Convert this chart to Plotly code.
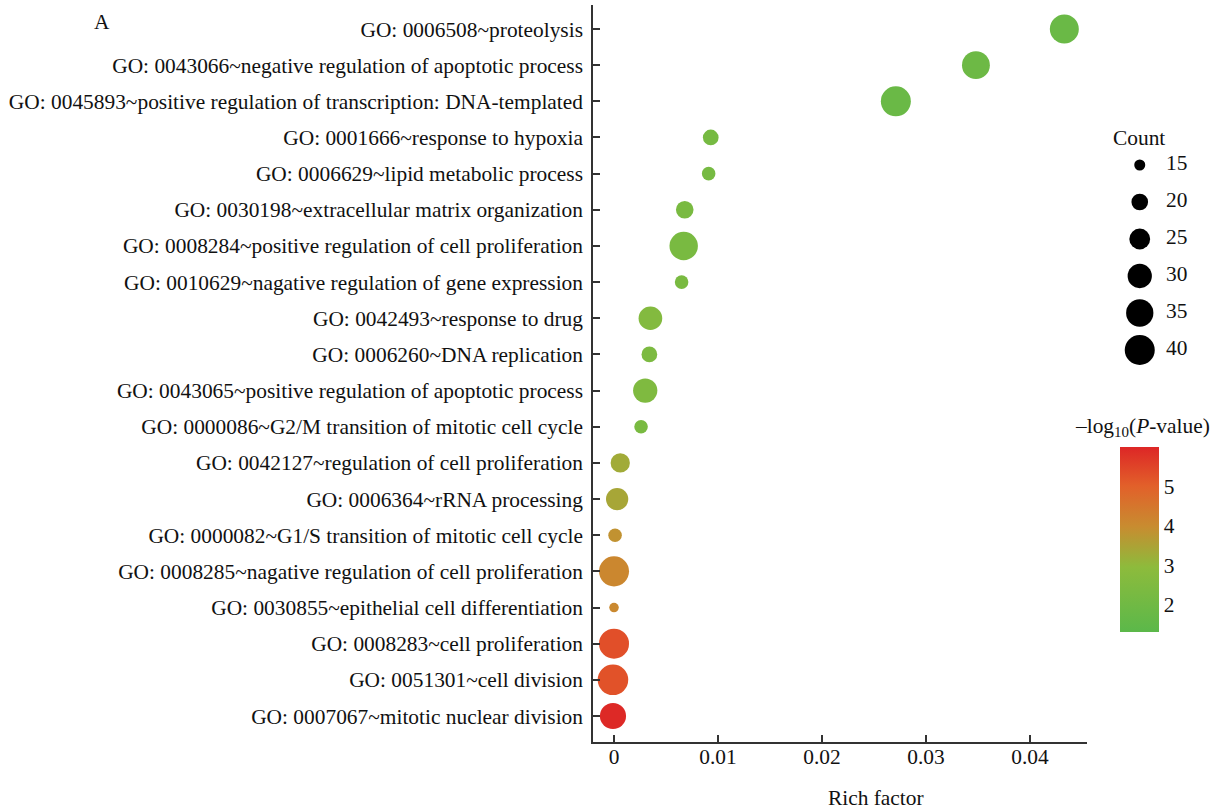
import numpy as np
import plotly.graph_objects as go

# ---------------- data ----------------
terms = [
    "GO: 0006508~proteolysis",
    "GO: 0043066~negative regulation of apoptotic process",
    "GO: 0045893~positive regulation of transcription: DNA-templated",
    "GO: 0001666~response to hypoxia",
    "GO: 0006629~lipid metabolic process",
    "GO: 0030198~extracellular matrix organization",
    "GO: 0008284~positive regulation of cell proliferation",
    "GO: 0010629~nagative regulation of gene expression",
    "GO: 0042493~response to drug",
    "GO: 0006260~DNA replication",
    "GO: 0043065~positive regulation of apoptotic process",
    "GO: 0000086~G2/M transition of mitotic cell cycle",
    "GO: 0042127~regulation of cell proliferation",
    "GO: 0006364~rRNA processing",
    "GO: 0000082~G1/S transition of mitotic cell cycle",
    "GO: 0008285~nagative regulation of cell proliferation",
    "GO: 0030855~epithelial cell differentiation",
    "GO: 0008283~cell proliferation",
    "GO: 0051301~cell division",
    "GO: 0007067~mitotic nuclear division",
]
rich_factor = [0.0433, 0.0348, 0.0271, 0.0093, 0.0091, 0.0068, 0.0067, 0.0065,
               0.0035, 0.0034, 0.0030, 0.0026, 0.0006, 0.0003, 0.0001, 0.0000,
               0.0000, 0.0000, -0.0001, -0.0001]
counts = [38, 36, 40, 19, 17, 21, 37, 17, 29, 19, 30, 17, 23, 27, 17, 40,
          14, 40, 41, 33]
neg_log10_p = [1.8, 1.9, 1.8, 2.2, 2.2, 2.3, 2.3, 2.3, 2.6, 2.4, 2.5, 2.3,
               3.3, 3.4, 3.85, 4.1, 4.05, 5.3, 5.25, 5.95]

legend_counts = [15, 20, 25, 30, 35, 40]
x_tick_vals = [0, 0.01, 0.02, 0.03, 0.04]
x_tick_text = ["0", "0.01", "0.02", "0.03", "0.04"]
cbar_tick_vals = [2, 3, 4, 5]

# ---------------- styling / layout helpers ----------------
FONT = "Liberation Serif"
FS = 21.4
W, H = 1216, 810
PLOT_L, PLOT_R, PLOT_T, PLOT_B = 593, 1087, 5, 742   # page pixels
L, T, B, R = PLOT_L, PLOT_T, H - PLOT_B, 0
PW, PH = W - L - R, H - T - B


def px_x(p):
    """page pixel x -> paper coordinate"""
    return (p - L) / PW


def px_y(p):
    """page pixel y -> paper coordinate"""
    return (H - B - p) / PH


def diam(c):
    return np.sqrt(31.2 * (np.asarray(c, dtype=float) - 11.1))


# category axis: row centres at page y 29 (top) .. 716 (bottom)
row_top, row_bot = 29.0, 716.0
step = (row_bot - row_top) / (len(terms) - 1)
y_range = [-(PLOT_B - row_bot) / step, len(terms) - 1 + (row_top - PLOT_T) / step]

colorscale = [
    [0.0, "#5bb84a"],
    [0.35, "#8dbb3c"],
    [0.57, "#c88c30"],
    [0.79, "#e2602a"],
    [1.0, "#dd2626"],
]

fig = go.Figure()

fig.add_trace(go.Scatter(
    x=rich_factor, y=terms, mode="markers",
    marker=dict(
        size=diam(counts), sizemode="diameter",
        color=neg_log10_p, colorscale=colorscale, cmin=1.3, cmax=6.0,
        line=dict(width=0), opacity=1,
        showscale=True,
        colorbar=dict(
            thickness=39, thicknessmode="pixels",
            len=185, lenmode="pixels",
            x=px_x(1120), xanchor="left", xpad=0,
            y=px_y(539.5), yanchor="middle", ypad=0,
            tickvals=cbar_tick_vals, ticks="", outlinewidth=0,
            tickfont=dict(family=FONT, size=FS, color="#111"),
        ),
    ),
    showlegend=False, hoverinfo="x+y",
))

# size legend (Count)
leg_top, leg_bot = 165.0, 350.0
leg_step = (leg_bot - leg_top) / (len(legend_counts) - 1)
dom_top, dom_bot = 137.0, 374.0
fig.add_trace(go.Scatter(
    x=[0.39] * len(legend_counts), y=list(range(len(legend_counts))),
    mode="markers", xaxis="x2", yaxis="y2",
    marker=dict(size=diam(legend_counts), sizemode="diameter", color="#000000",
                line=dict(width=0), opacity=1),
    showlegend=False, hoverinfo="skip",
))
fig.add_trace(go.Scatter(
    x=[0.6] * len(legend_counts), y=list(range(len(legend_counts))),
    mode="text", text=[str(c) for c in legend_counts],
    textposition="middle right", xaxis="x2", yaxis="y2",
    textfont=dict(family=FONT, size=FS, color="#111"),
    showlegend=False, hoverinfo="skip",
))

fig.update_layout(
    width=W, height=H,
    margin=dict(l=L, r=R, t=T, b=B, pad=0),
    paper_bgcolor="white", plot_bgcolor="white",
    font=dict(family=FONT, size=FS, color="#111"),
    xaxis=dict(
        domain=[0, px_x(PLOT_R)], range=[-0.00202, 0.04548],
        tickvals=x_tick_vals, ticktext=x_tick_text,
        ticks="inside", ticklen=7, tickwidth=1.5, tickcolor="#333",
        showline=True, linecolor="#333", linewidth=1.5,
        showgrid=False, zeroline=False, ticklabelstandoff=-5,
        tickfont=dict(family=FONT, size=FS, color="#111"),
    ),
    yaxis=dict(
        type="category", categoryorder="array", categoryarray=terms[::-1],
        range=y_range,
        ticks="inside", ticklen=7, tickwidth=1.5, tickcolor="#333",
        showline=True, linecolor="#333", linewidth=1.5,
        showgrid=False, zeroline=False, ticklabelstandoff=4,
        tickfont=dict(family=FONT, size=FS, color="#111"),
    ),
    xaxis2=dict(domain=[px_x(1091), 1], range=[0, 1], visible=False,
                anchor="y2"),
    yaxis2=dict(domain=[px_y(dom_bot), px_y(dom_top)],
                range=[(dom_bot - leg_top) / leg_step,
                       (dom_top - leg_top) / leg_step],
                visible=False, anchor="x2"),
    annotations=[
        dict(text="A", xref="paper", yref="paper", x=px_x(102), y=px_y(22),
             showarrow=False, xanchor="center", yanchor="middle",
             font=dict(family=FONT, size=FS, color="#111")),
        dict(text="Count", xref="paper", yref="paper", x=px_x(1139),
             y=px_y(138), showarrow=False, xanchor="center", yanchor="middle",
             font=dict(family=FONT, size=FS, color="#111")),
        dict(text="\u2013log<sub>10</sub>(<i>P</i>-value)", xref="paper",
             yref="paper", x=px_x(1142), y=px_y(427), showarrow=False,
             xanchor="center", yanchor="middle",
             font=dict(family=FONT, size=FS, color="#111")),
        dict(text="Rich factor", xref="paper", yref="paper", x=px_x(876),
             y=px_y(798), showarrow=False, xanchor="center", yanchor="middle",
             font=dict(family=FONT, size=FS, color="#111")),
    ],
)

fig.write_html(
    "out.html",
    config={"displayModeBar": False},
    post_script=("document.documentElement.style.overflow='hidden';"
                 "document.body.style.margin='0';"
                 "document.body.style.overflow='hidden';"),
)
